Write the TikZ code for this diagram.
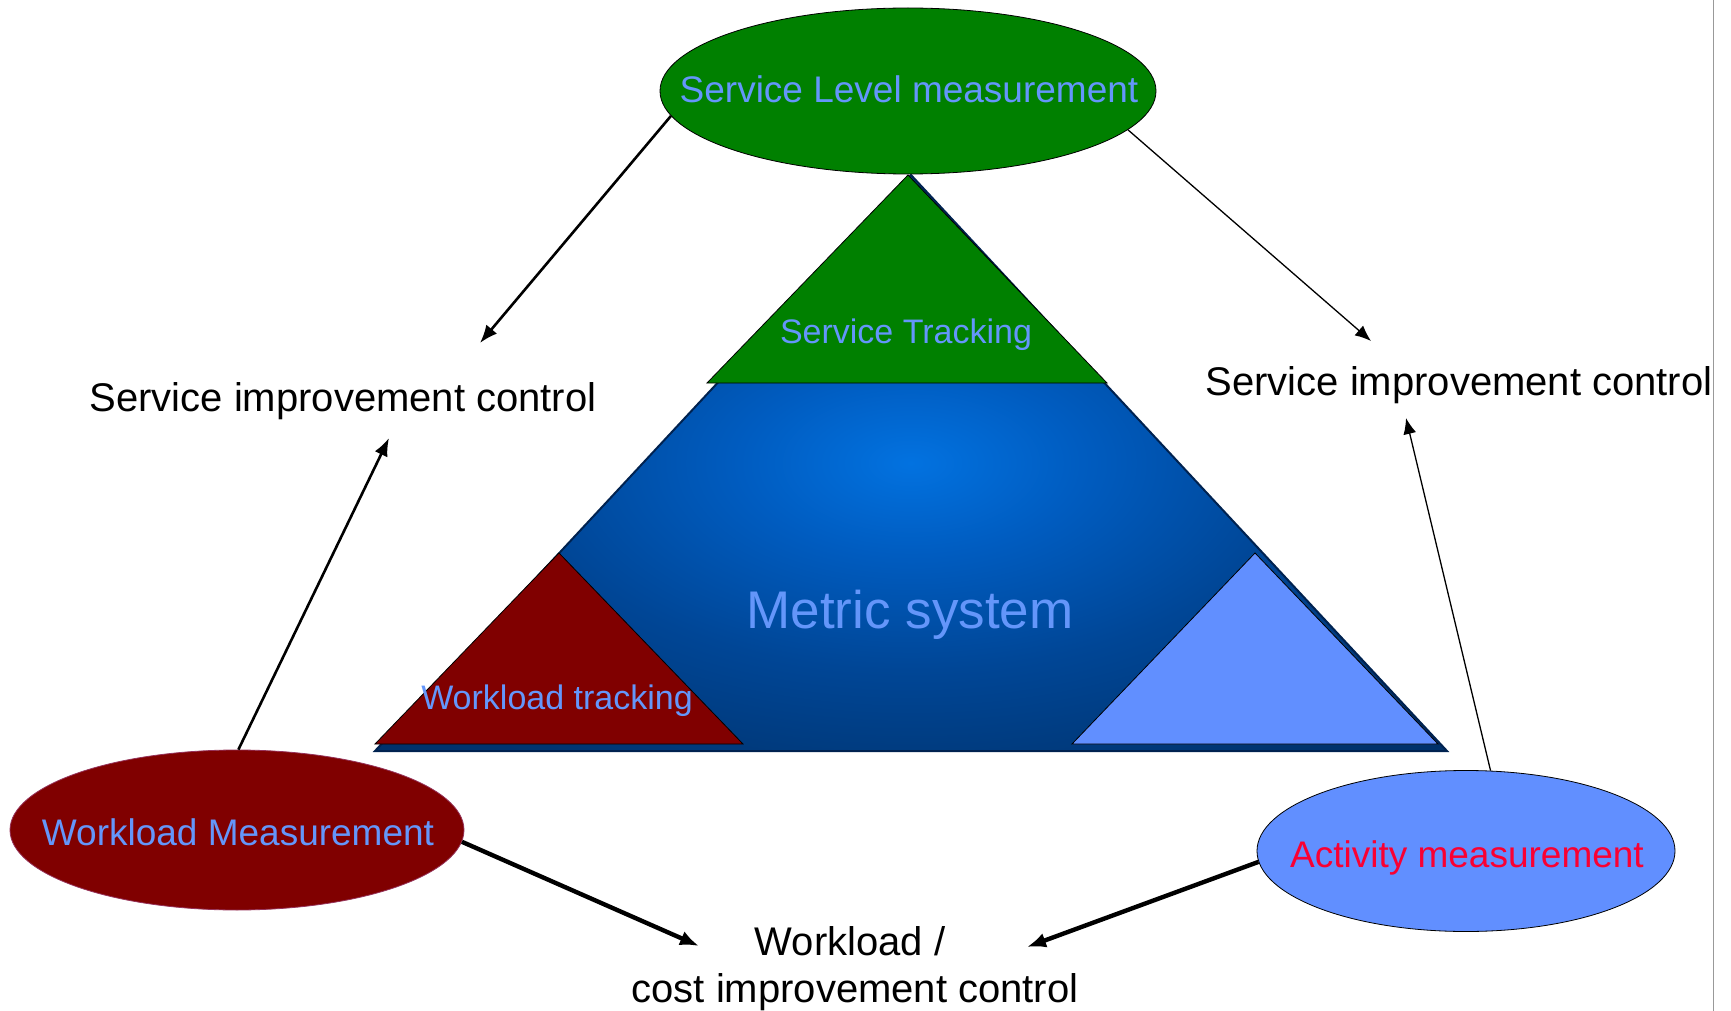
\documentclass[tikz,border=0pt]{standalone}
\usepackage{fontspec}
\setmainfont{Liberation Sans}
\usetikzlibrary{arrows.meta, shapes.geometric}

\definecolor{levelgreen}{RGB}{0,128,0}
\definecolor{loadred}{RGB}{128,0,0}
\definecolor{loadedge}{RGB}{150,50,90}
\definecolor{actblue}{RGB}{97,143,255}
\definecolor{labelblue}{RGB}{100,150,250}
\definecolor{actred}{RGB}{250,0,50}
\definecolor{glowa}{RGB}{2,114,224}
\definecolor{glowb}{RGB}{0,92,192}
\definecolor{glowc}{RGB}{0,70,150}
\definecolor{glowd}{RGB}{0,52,112}
\definecolor{glowe}{RGB}{0,40,90}
\definecolor{navyedge}{RGB}{0,34,80}

\pgfdeclareradialshading{metricglow}{\pgfpoint{0bp}{0bp}}{%
  color(0bp)=(glowa); color(8bp)=(glowb); color(18bp)=(glowc);
  color(30bp)=(glowd); color(50bp)=(glowe)}

\begin{document}
\begin{tikzpicture}[x=0.5pt,y=-0.5pt,>={Latex[length=9pt,width=7pt]},
    measure/.style={ellipse,draw=black,line width=0.4pt,inner sep=0pt},
    inlabel/.style={anchor=base,text=labelblue},
    ctrl/.style={anchor=base,font=\fontsize{20pt}{24pt}\selectfont},
    thinarrow/.style={->,line width=0.65pt,>={Latex[length=8pt,width=6.5pt]}},
    midarrow/.style={->,line width=1.3pt},
    thickarrow/.style={->,line width=2.2pt,>={Latex[length=9.5pt,width=7.5pt]}}]

    \useasboundingbox (0,0) rectangle (1731,1011);

    % Metric system pyramid and its corner triangles
    \path[shading=metricglow,draw=navyedge,line width=1pt] (911,175) -- (1447,751)
    -- (375,751) -- cycle;
    \path[fill=levelgreen,draw=black,line width=0.4pt] (908,175) -- (1107,383)
    -- (707,383) -- cycle;
    \path[fill=loadred,draw=black,line width=0.4pt] (559,553) -- (743,744)
    -- (375,744) -- cycle;
    \path[fill=actblue,draw=black,line width=0.4pt] (1255,553) -- (1438,744)
    -- (1072,744) -- cycle;

    % Pyramid label(s)
    \node[inlabel,font=\fontsize{17pt}{20pt}\selectfont] (sttext) at (906,343)
    {Service Tracking};
    \node[inlabel,font=\fontsize{26.5pt}{32pt}\selectfont] (mstext) at (910,628)
    {Metric system};
    \node[inlabel,font=\fontsize{17pt}{20pt}\selectfont] (wttext) at (557,709)
    {Workload tracking};

    % Measurement ellipse(s)
    \node[measure,fill=levelgreen,minimum width=248pt,minimum height=83pt] (slm)
    at (908,91) {};
    \node[inlabel,font=\fontsize{18.5pt}{22pt}\selectfont] (slmtext) at (909,103)
    {Service Level measurement};
    \node[measure,fill=loadred,draw=loadedge,minimum width=227pt,minimum height=80pt]
    (wlm) at (237,830) {};
    \node[inlabel,font=\fontsize{18.5pt}{22pt}\selectfont] (wlmtext) at (238,845)
    {Workload Measurement};
    \node[measure,fill=actblue,minimum width=209pt,minimum height=80.5pt] (act)
    at (1466,851) {};
    \node[anchor=base,text=actred,font=\fontsize{18.5pt}{22pt}\selectfont]
    (acttext) at (1467,867) {Activity measurement};

    % Improvement control label(s)
    \node[ctrl] (sicleft) at (343,411) {Service improvement control};
    \node[ctrl] (sicright) at (1459,395) {Service improvement control};
    \node[ctrl] (wlcost) at (850,955) {Workload /};
    \node[ctrl] (wlcostb) at (855,1002) {cost improvement control};

    % Arrow tip(s)
    \coordinate (slltip) at (480,343);
    \coordinate (slrtip) at (1371,341);
    \coordinate (wlmtip) at (389,438);
    \coordinate (acttip) at (1406,418);
    \coordinate (wlctip) at (699,946);
    \coordinate (actctip) at (1027,947);

    % Arrow(s)
    \draw[midarrow] (slm.186) -- (slltip);
    \draw[thinarrow] (slm.-10) -- (slrtip);
    \draw[midarrow] (wlm.89) -- (wlmtip);
    \draw[thinarrow] (act.73) -- (acttip);
    \draw[thickarrow] (wlm.-3) -- (wlctip);
    \draw[thickarrow] (act.183) -- (actctip);

    % Slide edge
    \draw[gray!80,line width=0.5pt] (1713,0) -- (1713,1011);

\end{tikzpicture}
\end{document}
